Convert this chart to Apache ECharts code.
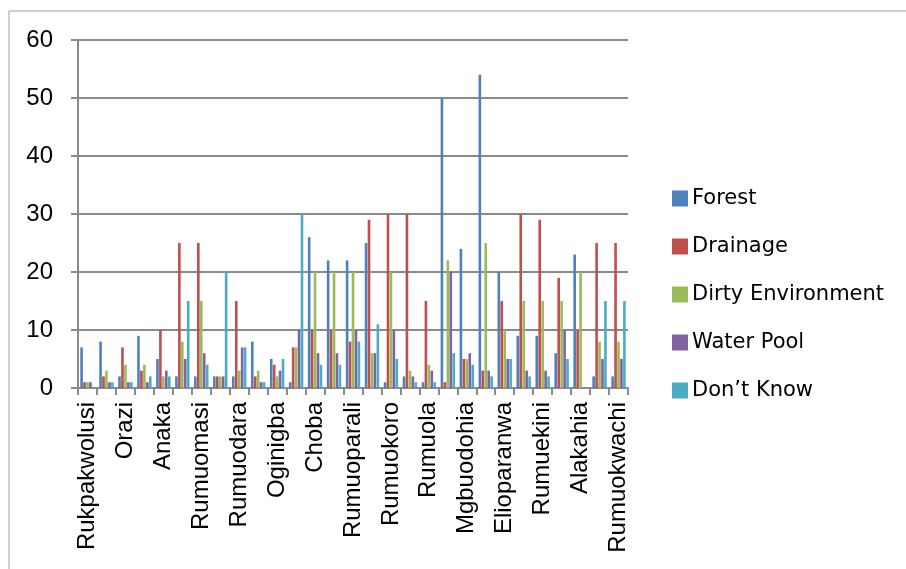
<!DOCTYPE html>
<html>
<head>
<meta charset="utf-8">
<script src="https://cdn.jsdelivr.net/npm/echarts@6/dist/echarts.min.js"></script>
<style>
  html, body { margin: 0; padding: 0; background: #fff; }
  #chart { width: 906px; height: 569px; }
</style>
</head>
<body>
<div id="chart"></div>
<script>
// Communities (only every second one carries a printed name on the axis)
const communities = [
  'Rukpakwolusi', '', 'Orazi', '', 'Anaka', '', 'Rumuomasi', '', 'Rumuodara', '',
  'Oginigba', '', 'Choba', '', 'Rumuoparali', '', 'Rumuokoro', '', 'Rumuola', '',
  'Mgbuodohia', '', 'Elioparanwa', '', 'Rumuekini', '', 'Alakahia', '', 'Rumuokwachi'
];

const forest   = [7, 8, 2, 9, 5, 2, 2, 2, 2, 8, 5, 1, 26, 22, 22, 25, 1, 2, 1, 50, 24, 54, 20, 9, 9, 6, 23, 2, 2];
const drainage = [1, 2, 7, 3, 10, 25, 25, 2, 15, 2, 4, 7, 10, 10, 8, 29, 30, 30, 15, 1, 5, 3, 15, 30, 29, 19, 10, 25, 25];
const dirtyEnv = [1, 3, 4, 4, 2, 8, 15, 2, 3, 3, 2, 7, 20, 20, 20, 6, 20, 3, 4, 22, 5, 25, 10, 15, 15, 15, 20, 8, 8];
const waterPool = [1, 1, 1, 1, 3, 5, 6, 2, 7, 1, 3, 10, 6, 6, 10, 6, 10, 2, 3, 20, 6, 3, 5, 3, 3, 10, 0, 5, 5];
const dontKnow = [0, 1, 1, 2, 2, 15, 4, 20, 7, 1, 5, 30, 4, 4, 8, 11, 5, 1, 1, 6, 4, 2, 5, 2, 2, 5, 0, 15, 15];

const yTicks = { min: 0, max: 60, interval: 10 };

const seriesDefs = [
  { name: 'Forest', data: forest, color: '#4F81BD' },
  { name: 'Drainage', data: drainage, color: '#C0504D' },
  { name: 'Dirty Environment', data: dirtyEnv, color: '#9BBB59' },
  { name: 'Water Pool', data: waterPool, color: '#8064A2' },
  { name: 'Don\u2019t Know', data: dontKnow, color: '#4BACC6' }
];

const gridColor = '#8a8a8a';
const chart = echarts.init(document.getElementById('chart'), null, { renderer: 'canvas' });

chart.setOption({
  backgroundColor: '#ffffff',
  animation: false,
  graphic: [{
    type: 'rect',
    shape: { x: 9, y: 11, width: 1000, height: 1000 },
    style: { fill: 'none', stroke: '#a0a0a0', lineWidth: 1 },
    silent: true
  }],
  grid: { left: 78, right: 278, top: 40, bottom: 181, containLabel: false },
  legend: {
    orient: 'vertical',
    left: 667,
    top: 183,
    itemWidth: 16,
    itemHeight: 16,
    itemGap: 27,
    icon: 'rect',
    textStyle: { fontFamily: 'DejaVu Sans', fontSize: 21, color: '#000', padding: [0, 0, 0, -1] },
    data: seriesDefs.map(s => s.name)
  },
  xAxis: {
    type: 'category',
    data: communities,
    boundaryGap: true,
    axisLine: { lineStyle: { color: gridColor, width: 2 } },
    axisTick: { show: true, interval: 0, length: 7, lineStyle: { color: gridColor, width: 2 } },
    axisLabel: {
      interval: 0,
      rotate: 90,
      margin: 14,
      fontFamily: 'Liberation Sans',
      fontSize: 24,
      color: '#000'
    },
    splitLine: { show: false }
  },
  yAxis: {
    type: 'value',
    min: yTicks.min,
    max: yTicks.max,
    interval: yTicks.interval,
    axisLine: { show: true, lineStyle: { color: gridColor, width: 2 } },
    axisTick: { show: true, length: 7, lineStyle: { color: gridColor, width: 2 } },
    axisLabel: { margin: 25, fontFamily: 'Liberation Sans', fontSize: 24, color: '#000' },
    splitLine: { show: true, lineStyle: { color: gridColor, width: 2 } }
  },
  series: seriesDefs.map(s => ({
    name: s.name,
    type: 'bar',
    data: s.data,
    barGap: '12%',
    barCategoryGap: '24%',
    itemStyle: { color: s.color }
  }))
});
</script>
</body>
</html>
